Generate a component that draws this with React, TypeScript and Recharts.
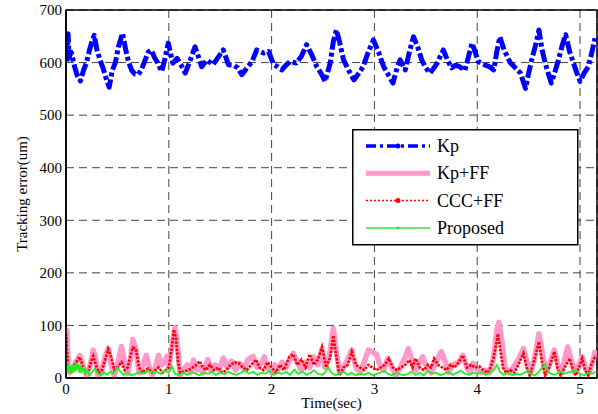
import React from 'react';
import { LineChart, Line, XAxis, YAxis, CartesianGrid, ReferenceArea } from 'recharts';

const xTicks = [0, 1, 2, 3, 4, 5];
const yTicks = [0, 100, 200, 300, 400, 500, 600, 700];
const xMax = 5.165;

const kpTime = [0.00, 0.01, 0.02, 0.03, 0.05, 0.08, 0.11, 0.14, 0.17, 0.2, 0.23, 0.26, 0.275, 0.3, 0.33, 0.36, 0.39, 0.42, 0.45, 0.48, 0.51, 0.55, 0.58, 0.61, 0.64, 0.67, 0.70, 0.73, 0.76, 0.80, 0.83, 0.86, 0.89, 0.93, 0.96, 0.995, 1.02, 1.04, 1.08, 1.12, 1.16, 1.2, 1.255, 1.29, 1.32, 1.37, 1.43, 1.48, 1.53, 1.58, 1.63, 1.67, 1.71, 1.76, 1.81, 1.855, 1.92, 1.97, 2.02, 2.06, 2.10, 2.14, 2.18, 2.24, 2.29, 2.34, 2.39, 2.44, 2.48, 2.52, 2.55, 2.57, 2.60, 2.63, 2.66, 2.70, 2.75, 2.80, 2.85, 2.89, 2.94, 2.99, 3.04, 3.09, 3.14, 3.18, 3.22, 3.25, 3.30, 3.34, 3.38, 3.42, 3.46, 3.50, 3.54, 3.58, 3.61, 3.67, 3.71, 3.75, 3.79, 3.83, 3.88, 3.92, 3.95, 3.98, 4.01, 4.05, 4.08, 4.12, 4.16, 4.19, 4.22, 4.26, 4.32, 4.37, 4.42, 4.47, 4.50, 4.53, 4.57, 4.60, 4.63, 4.66, 4.69, 4.72, 4.76, 4.79, 4.83, 4.86, 4.90, 4.94, 4.97, 5.00, 5.04, 5.08, 5.11, 5.145];
const kpValues = [640, 600, 655, 610, 620, 595, 575, 565, 585, 600, 625, 645, 652, 625, 605, 590, 570, 553, 585, 600, 630, 656, 625, 600, 585, 578, 577, 585, 600, 620, 624, 610, 600, 583, 605, 637, 615, 599, 608, 595, 580, 600, 630, 610, 592, 605, 596, 610, 624, 596, 595, 590, 577, 590, 602, 624, 618, 621, 596, 592, 586, 595, 602, 599, 612, 634, 615, 592, 580, 564, 585, 599, 640, 662, 640, 605, 585, 567, 580, 592, 620, 643, 620, 592, 575, 561, 590, 605, 586, 620, 649, 630, 605, 590, 580, 590, 599, 624, 605, 590, 595, 592, 585, 615, 637, 620, 602, 598, 595, 592, 586, 620, 649, 625, 600, 590, 580, 551, 580, 605, 635, 662, 625, 600, 580, 561, 585, 605, 635, 653, 620, 597, 580, 564, 580, 592, 615, 646];

const kpffTime = [0.00, 0.01, 0.02, 0.04, 0.08, 0.135, 0.17, 0.20, 0.23, 0.265, 0.29, 0.31, 0.34, 0.38, 0.41, 0.44, 0.47, 0.50, 0.54, 0.57, 0.60, 0.63, 0.65, 0.68, 0.71, 0.74, 0.78, 0.81, 0.84, 0.87, 0.90, 0.93, 0.96, 0.98, 1.0, 1.03, 1.06, 1.08, 1.11, 1.14, 1.18, 1.21, 1.24, 1.27, 1.30, 1.33, 1.38, 1.41, 1.45, 1.49, 1.53, 1.57, 1.61, 1.65, 1.69, 1.73, 1.77, 1.82, 1.86, 1.90, 1.93, 1.96, 2.0, 2.03, 2.06, 2.10, 2.14, 2.18, 2.21, 2.25, 2.29, 2.33, 2.37, 2.41, 2.45, 2.49, 2.52, 2.56, 2.60, 2.63, 2.66, 2.70, 2.74, 2.78, 2.82, 2.86, 2.90, 2.94, 2.98, 3.02, 3.06, 3.09, 3.13, 3.17, 3.21, 3.25, 3.29, 3.33, 3.37, 3.40, 3.44, 3.47, 3.51, 3.55, 3.60, 3.65, 3.69, 3.72, 3.76, 3.82, 3.86, 3.90, 3.93, 3.96, 4.00, 4.04, 4.08, 4.12, 4.16, 4.19, 4.21, 4.24, 4.27, 4.31, 4.35, 4.40, 4.45, 4.49, 4.52, 4.56, 4.60, 4.64, 4.67, 4.71, 4.75, 4.79, 4.82, 4.85, 4.88, 4.92, 4.95, 4.99, 5.02, 5.06, 5.09, 5.12, 5.15];
const kpffValues = [94, 90, 20, 10, 25, 43, 20, 5, 20, 53, 35, 5, 10, 40, 56, 25, 5, 25, 60, 30, 8, 40, 73, 55, 10, 20, 43, 20, 5, 20, 43, 25, 30, 41, 20, 60, 96, 70, 5, 15, 25, 10, 34, 15, 20, 10, 35, 15, 25, 15, 38, 20, 32, 15, 28, 18, 35, 41, 20, 28, 40, 20, 10, 25, 15, 30, 20, 35, 47, 30, 15, 30, 20, 40, 25, 55, 20, 40, 94, 50, 10, 20, 35, 53, 20, 10, 30, 53, 50, 45, 20, 15, 37, 20, 5, 20, 35, 56, 30, 15, 30, 40, 20, 10, 30, 50, 30, 10, 25, 30, 43, 20, 10, 28, 15, 10, 15, 10, 40, 90, 106, 70, 20, 10, 20, 35, 56, 25, 10, 40, 84, 40, 10, 30, 53, 20, 10, 35, 59, 30, 10, 25, 40, 15, 10, 30, 53];

const cccTime = [0.00, 0.005, 0.01, 0.02, 0.04, 0.07, 0.10, 0.13, 0.16, 0.19, 0.22, 0.25, 0.265, 0.29, 0.32, 0.35, 0.38, 0.41, 0.44, 0.47, 0.50, 0.54, 0.57, 0.60, 0.63, 0.65, 0.68, 0.71, 0.74, 0.77, 0.80, 0.84, 0.87, 0.90, 0.94, 0.97, 1.00, 1.03, 1.05, 1.07, 1.09, 1.11, 1.15, 1.19, 1.23, 1.27, 1.30, 1.33, 1.36, 1.40, 1.44, 1.48, 1.52, 1.56, 1.60, 1.64, 1.68, 1.72, 1.76, 1.80, 1.85, 1.88, 1.92, 1.96, 2.00, 2.04, 2.08, 2.12, 2.17, 2.21, 2.25, 2.29, 2.33, 2.37, 2.41, 2.45, 2.49, 2.53, 2.57, 2.60, 2.63, 2.66, 2.70, 2.74, 2.78, 2.82, 2.86, 2.90, 2.94, 2.98, 3.02, 3.06, 3.10, 3.14, 3.18, 3.22, 3.26, 3.30, 3.34, 3.37, 3.40, 3.44, 3.48, 3.52, 3.55, 3.58, 3.62, 3.66, 3.70, 3.74, 3.78, 3.82, 3.86, 3.90, 3.94, 3.98, 4.02, 4.06, 4.10, 4.13, 4.16, 4.19, 4.20, 4.22, 4.25, 4.28, 4.32, 4.36, 4.40, 4.45, 4.48, 4.51, 4.55, 4.60, 4.63, 4.66, 4.70, 4.75, 4.78, 4.81, 4.85, 4.90, 4.93, 4.96, 4.99, 5.02, 5.05, 5.08, 5.11, 5.15];
const cccValues = [85, 70, 50, 25, 10, 20, 30, 40, 25, 10, 15, 35, 42, 25, 10, 15, 35, 55, 40, 15, 20, 30, 15, 20, 45, 58, 55, 20, 10, 15, 18, 10, 15, 20, 10, 15, 20, 60, 92, 75, 30, 10, 12, 15, 20, 25, 32, 20, 15, 25, 15, 20, 10, 15, 25, 30, 28, 20, 15, 25, 35, 20, 15, 30, 20, 10, 25, 15, 40, 45, 25, 35, 20, 45, 25, 35, 59, 20, 40, 81, 40, 5, 20, 25, 50, 25, 20, 15, 25, 20, 15, 20, 25, 37, 20, 15, 20, 25, 34, 20, 37, 20, 15, 25, 20, 37, 25, 20, 15, 25, 20, 30, 43, 20, 25, 20, 22, 15, 10, 20, 40, 70, 84, 60, 20, 10, 15, 10, 25, 47, 20, 5, 30, 69, 30, 5, 20, 50, 20, 5, 20, 37, 15, 5, 20, 37, 15, 5, 25, 43];

const propTime = [0.00, 0.01, 0.02, 0.03, 0.04, 0.05, 0.06, 0.07, 0.08, 0.09, 0.10, 0.11, 0.12, 0.13, 0.14, 0.15, 0.17, 0.19, 0.21, 0.23, 0.25, 0.28, 0.31, 0.34, 0.37, 0.40, 0.43, 0.46, 0.50, 0.53, 0.56, 0.60, 0.64, 0.68, 0.72, 0.76, 0.80, 0.84, 0.88, 0.92, 0.96, 1.00, 1.03, 1.06, 1.10, 1.14, 1.18, 1.22, 1.26, 1.30, 1.34, 1.38, 1.42, 1.46, 1.50, 1.54, 1.58, 1.62, 1.66, 1.70, 1.74, 1.78, 1.82, 1.86, 1.90, 1.94, 1.98, 2.02, 2.06, 2.10, 2.14, 2.18, 2.22, 2.26, 2.30, 2.34, 2.38, 2.41, 2.45, 2.49, 2.52, 2.55, 2.58, 2.62, 2.66, 2.70, 2.74, 2.78, 2.82, 2.86, 2.90, 2.94, 2.98, 3.02, 3.06, 3.09, 3.13, 3.17, 3.21, 3.25, 3.29, 3.33, 3.36, 3.40, 3.44, 3.48, 3.52, 3.56, 3.60, 3.64, 3.68, 3.72, 3.76, 3.80, 3.84, 3.88, 3.92, 3.96, 4.00, 4.04, 4.08, 4.12, 4.16, 4.19, 4.22, 4.26, 4.30, 4.34, 4.38, 4.42, 4.46, 4.49, 4.52, 4.56, 4.60, 4.63, 4.66, 4.69, 4.72, 4.76, 4.80, 4.84, 4.88, 4.92, 4.96, 5.00, 5.04, 5.08, 5.12, 5.15];
const propValues = [25, 10, 28, 8, 22, 12, 25, 10, 26, 12, 28, 15, 27, 10, 24, 12, 20, 8, 15, 5, 10, 18, 8, 5, 10, 6, 12, 8, 20, 12, 6, 10, 5, 8, 12, 8, 14, 10, 12, 8, 15, 10, 22, 8, 5, 10, 6, 12, 8, 5, 10, 8, 12, 6, 10, 7, 12, 8, 6, 10, 14, 8, 12, 6, 10, 8, 14, 6, 10, 8, 12, 6, 16, 8, 12, 6, 10, 15, 8, 6, 10, 21, 10, 5, 8, 12, 6, 10, 5, 8, 6, 10, 5, 8, 10, 14, 8, 5, 10, 7, 5, 8, 12, 6, 10, 5, 14, 8, 10, 5, 8, 12, 6, 10, 14, 8, 6, 10, 8, 12, 6, 10, 15, 25, 12, 6, 10, 5, 8, 6, 10, 14, 8, 5, 12, 20, 26, 12, 8, 6, 13, 8, 10, 12, 15, 8, 5, 10, 8, 12];

const zip = (ts: number[], vs: number[]) => ts.map((t, i) => ({ t, v: vs[i] }));
const kpData = zip(kpTime, kpValues);
const kpffData = zip(kpffTime, kpffValues);
const cccData = zip(cccTime, cccValues);
const propData = zip(propTime, propValues);

const seriesNames = ['Kp', 'Kp+FF', 'CCC+FF', 'Proposed'];
const FONT = '"Liberation Serif", "Times New Roman", serif';

const BLUE = '#0000FF';
const PINK = '#FF99CC';
const RED = '#FF0000';
const GREEN = '#22EE22';

const YLabel = (props: any) => {
  const vb = props.viewBox || { x: 0, y: 10, width: 66, height: 368 };
  const cx = vb.x + 22;
  const cy = vb.y + vb.height / 2;
  return (
    <text x={cx} y={cy} transform={`rotate(-90 ${cx} ${cy})`} textAnchor="middle" dominantBaseline="central" fontSize={15} fontFamily={FONT} fill="#000">
      Tracking error(um)
    </text>
  );
};

const legendStyles = [
  { stroke: BLUE, width: 3.5, dash: '10 4 3 4', dot: BLUE, r: 2.5 },
  { stroke: PINK, width: 5, dash: undefined, dot: PINK, r: 1.5 },
  { stroke: RED, width: 1.5, dash: '2 2', dot: RED, r: 2.5 },
  { stroke: '#66EE66', width: 2, dash: undefined, dot: GREEN, r: 1.5 },
];

export default function App() {
  return (
    <div style={{ position: 'absolute', left: 0, top: 0, width: 598, height: 414, background: '#fff' }}>
      <LineChart width={598} height={414} margin={{ top: 10, right: 1, left: 0, bottom: 0 }} style={{ fontFamily: FONT }}>
        <CartesianGrid stroke="#444" strokeDasharray="8 5" />
        <XAxis
          type="number"
          dataKey="t"
          domain={[0, xMax]}
          ticks={xTicks}
          allowDataOverflow
          height={36}
          tickLine={false}
          tickSize={0}
          tickMargin={5}
          axisLine={{ stroke: '#000', strokeWidth: 1.5 }}
          tick={{ fill: '#000', fontSize: 15, fontFamily: FONT }}
          label={{ value: 'Time(sec)', position: 'insideBottom', offset: 6, fill: '#000', fontSize: 15, fontFamily: FONT }}
        />
        <YAxis
          type="number"
          domain={[0, 700]}
          ticks={yTicks}
          allowDataOverflow
          width={66}
          tickLine={false}
          tickSize={0}
          tickMargin={4}
          axisLine={{ stroke: '#000', strokeWidth: 1.5 }}
          tick={{ fill: '#000', fontSize: 15, fontFamily: FONT }}
          label={<YLabel />}
        />
        <Line data={kpData} dataKey="v" name={seriesNames[0]} stroke={BLUE} strokeWidth={5} strokeDasharray="13 3 4 3" strokeLinejoin="round" dot={false} isAnimationActive={false} />
        <Line data={kpffData} dataKey="v" name={seriesNames[1]} stroke={PINK} strokeWidth={5.5} strokeLinejoin="round" dot={false} isAnimationActive={false} />
        <Line data={cccData} dataKey="v" name={seriesNames[2]} stroke={RED} strokeWidth={2.6} strokeDasharray="2.5 1.2" dot={false} isAnimationActive={false} />
        <Line data={propData} dataKey="v" name={seriesNames[3]} stroke={GREEN} strokeWidth={1.8} dot={false} isAnimationActive={false} />
        <ReferenceArea x1={0} x2={xMax} y1={0} y2={700} fill="none" stroke="#000" strokeWidth={1.5} />
      </LineChart>
      <svg width={227} height={117} style={{ position: 'absolute', left: 352, top: 129 }}>
        <rect x={0.75} y={0.75} width={225} height={115} fill="#fff" stroke="#000" strokeWidth={1.5} />
        {seriesNames.map((name, i) => {
          const y = 17 + i * 27.3;
          const s = legendStyles[i];
          return (
            <g key={name}>
              <line x1={14} x2={78} y1={y} y2={y} stroke={s.stroke} strokeWidth={s.width} strokeDasharray={s.dash} />
              <circle cx={46} cy={y} r={s.r} fill={s.dot} />
              <text x={85} y={y} dominantBaseline="central" fontSize={18} fontFamily={FONT} fill="#000">{name}</text>
            </g>
          );
        })}
      </svg>
    </div>
  );
}
